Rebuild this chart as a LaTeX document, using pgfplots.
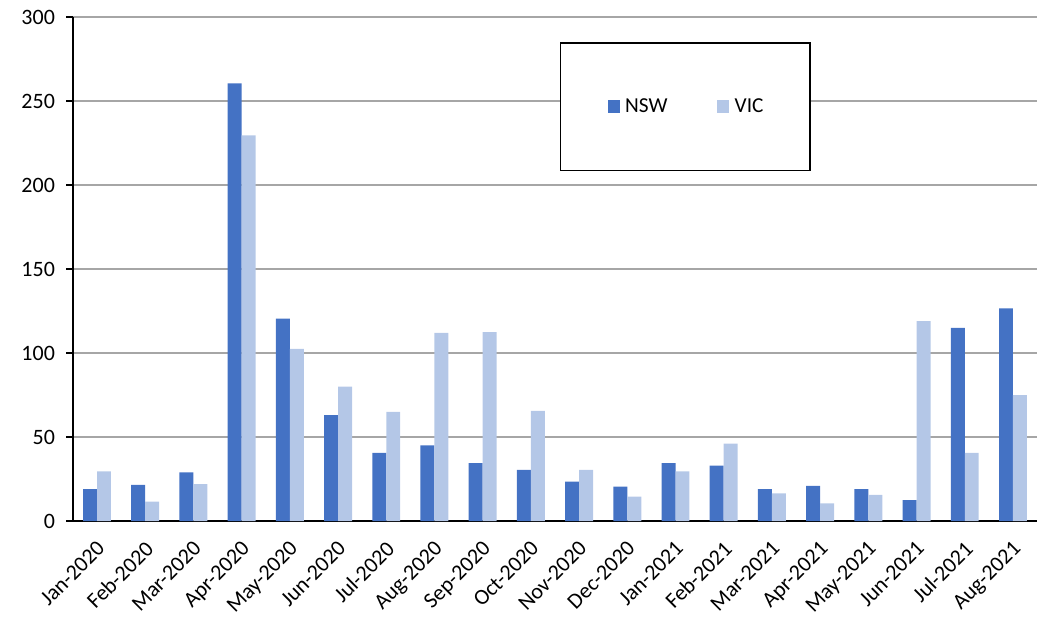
\documentclass[border=0pt]{standalone}
\usepackage{fontspec}
\setmainfont{Carlito}
\usepackage{pgfplots}
\pgfplotsset{compat=1.18}
\definecolor{nsw}{HTML}{4472C4}
\definecolor{vic}{HTML}{B4C7E7}

\begin{document}
\begin{tikzpicture}
\begin{axis}[
  scale only axis, width=724.5pt, height=378.75pt,
  xmin=-0.5, xmax=19.5, ymin=0, ymax=300,
  ybar=0pt, bar width=10.5pt,
  axis x line*=bottom, axis y line*=left,
  axis line style={line width=1.6pt, black},
  ytick={0,50,...,300},
  ymajorgrids, grid style={gray!70, line width=0.8pt},
  xtick={0,...,19},
  xticklabels={Jan-2020,Feb-2020,Mar-2020,Apr-2020,May-2020,Jun-2020,Jul-2020,Aug-2020,Sep-2020,Oct-2020,Nov-2020,Dec-2020,Jan-2021,Feb-2021,Mar-2021,Apr-2021,May-2021,Jun-2021,Jul-2021,Aug-2021},
  xticklabel style={xshift=-1pt, yshift=-9pt, rotate=45, anchor=north east, inner sep=0pt,
    font=\fontsize{16.5}{18}\selectfont},
  xtick style={draw=none},
  minor xtick={-0.5,0.5,...,19.5},
  minor x tick style={black, line width=1.4pt},
  minor tick length=6pt,
  y tick style={black, line width=1.4pt},
  major tick length=5pt,
  tick align=outside,
  yticklabel style={font=\fontsize{16.5}{18}\selectfont, anchor=east, xshift=-5pt},
  /pgf/number format/assume math mode=true,
  legend columns=2,
  legend style={at={(0.505,0.950)}, anchor=north west, draw=black, line width=1.2pt,
    inner xsep=33pt, inner ysep=40pt, font=\fontsize{16}{18}\selectfont,
    /tikz/every even column/.append style={column sep=33pt}},
  legend image code/.code={\path (0pt,0pt) (13.5pt,0pt); \fill[#1] (2.5pt,-4.5pt) rectangle (11.5pt,5pt);},
]
\addplot[fill=nsw, draw=none] coordinates {
  (0,19) (1,21.5) (2,29) (3,260.5) (4,120.5) (5,63) (6,40.5) (7,45) (8,34.5) (9,30.5)
  (10,23.5) (11,20.5) (12,34.5) (13,33) (14,19) (15,21) (16,19) (17,12.5) (18,115) (19,126.5)
};
\addplot[fill=vic, draw=none] coordinates {
  (0,29.5) (1,11.5) (2,22) (3,229.5) (4,102.5) (5,80) (6,65) (7,112) (8,112.5) (9,65.5)
  (10,30.5) (11,14.5) (12,29.5) (13,46) (14,16.5) (15,10.5) (16,15.5) (17,119) (18,40.5) (19,75)
};
\legend{NSW,VIC}
\coordinate (bbl) at (rel axis cs:-0.0756,-0.2);
\coordinate (btr) at (rel axis cs:1.002,1.0337);
\end{axis}
\pgfresetboundingbox
\path (bbl) rectangle (btr);
\end{tikzpicture}
\end{document}
